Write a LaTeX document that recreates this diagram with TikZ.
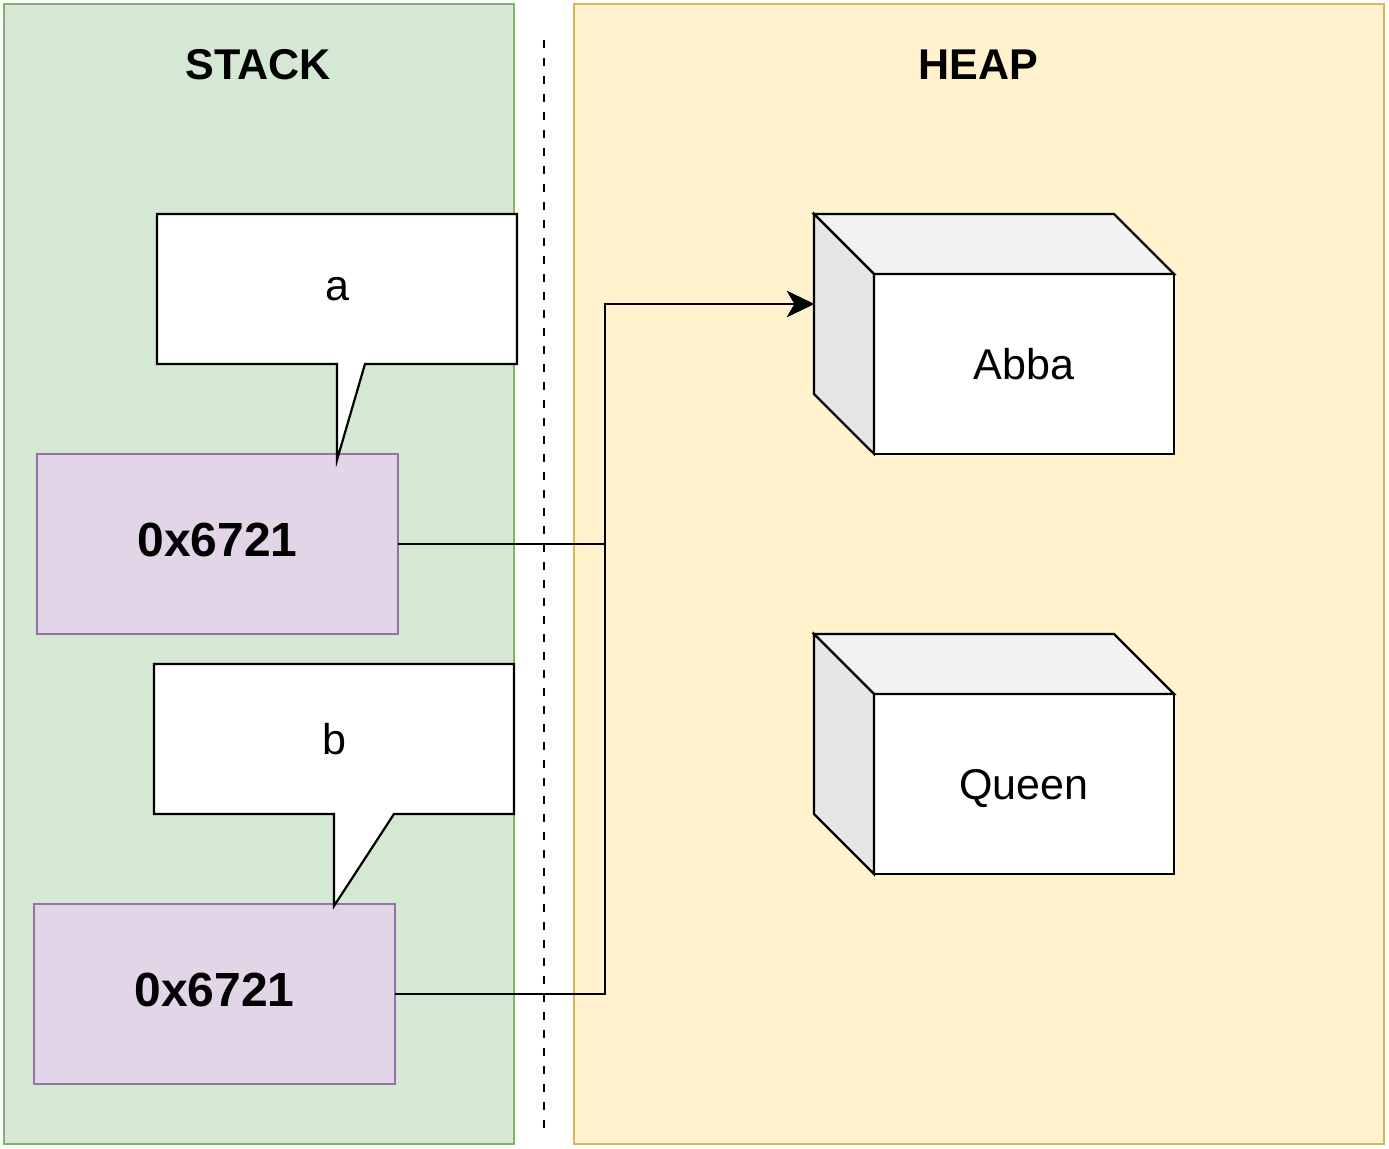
\documentclass[tikz,border=0pt]{standalone}
\usepackage{fontspec}
\setmainfont{Liberation Sans}
\usetikzlibrary{arrows.meta}
\definecolor{stackfill}{HTML}{D5E8D4}
\definecolor{stackline}{HTML}{82B366}
\definecolor{heapfill}{HTML}{FFF2CC}
\definecolor{heapline}{HTML}{D6B656}
\definecolor{ptrfill}{HTML}{E1D5E7}
\definecolor{ptrline}{HTML}{9673A6}
\definecolor{cubetop}{HTML}{F2F2F2}
\definecolor{cubeside}{HTML}{E6E6E6}
\newcommand{\bigtxt}{\fontsize{24.5pt}{29pt}\selectfont}
\newcommand{\addrtxt}{\fontsize{27.3pt}{32pt}\selectfont\bfseries}
\tikzset{
  panel/.style={inner sep=0, outer sep=0},
  ptrbox/.style={draw=ptrline, fill=ptrfill, minimum width=7.22cm, minimum height=3.6cm, inner sep=0, outer sep=0, text height=19.5pt, text depth=5.5pt, font=\addrtxt},
  varname/.style={minimum width=7.2cm, minimum height=3cm, inner sep=0, outer sep=0, font=\bigtxt},
  cubeface/.style={draw, fill=white, minimum width=6cm, minimum height=3.6cm, inner sep=0, outer sep=0, text height=17.6pt, text depth=0pt, font=\bigtxt},
  link/.style={-{Stealth[length=0.54cm, width=0.52cm, inset=0.15cm]}}
}
\begin{document}
\begin{tikzpicture}[x=0.02cm, y=-0.02cm, line width=1.25pt]
\useasboundingbox (0,0) rectangle (1389,1149);
\node[panel, draw=stackline, fill=stackfill, minimum width=10.2cm, minimum height=22.8cm] (stack) at (259,574) {};
\node[panel, draw=heapline, fill=heapfill, minimum width=16.2cm, minimum height=22.8cm] (heap) at (979,574) {};
\node[font=\bigtxt\bfseries] (stacklbl) at (258,65) {STACK};
\node[font=\bigtxt\bfseries] (heaplbl) at (978,65) {HEAP};
\coordinate (divtop) at (544,40);
\coordinate (divbot) at (544,1130);
\draw[dash pattern=on 0.16cm off 0.2cm] (divtop) -- (divbot);

\node[ptrbox] (boxa) at (217.5,544) {0x6721};
\node[ptrbox] (boxb) at (214.5,994) {0x6721};

\node[varname] (vara) at (337,289) {a};
\coordinate (tipa) at (337,460);
\draw[fill=white] (vara.south west) -- (vara.north west) -- (vara.north east) -- (vara.south east) -- ([xshift=0.56cm]vara.south) -- (tipa) -- (vara.south) -- cycle;
\node[varname] at (vara) {a};

\node[varname] (varb) at (334,739) {b};
\coordinate (tipb) at (334,906);
\draw[fill=white] (varb.south west) -- (varb.north west) -- (varb.north east) -- (varb.south east) -- ([xshift=1.2cm]varb.south) -- (tipb) -- (varb.south) -- cycle;
\node[varname] at (varb) {b};

\node[cubeface] (abba) at (1024,364) {Abba};
\draw[fill=cubetop] (abba.north west) -- ++(-60,-60) -- ++(300,0) -- (abba.north east) -- cycle;
\draw[fill=cubeside] (abba.north west) -- ++(-60,-60) -- ++(0,180) -- (abba.south west) -- cycle;

\node[cubeface] (queen) at (1024,784) {Queen};
\draw[fill=cubetop] (queen.north west) -- ++(-60,-60) -- ++(300,0) -- (queen.north east) -- cycle;
\draw[fill=cubeside] (queen.north west) -- ++(-60,-60) -- ++(0,180) -- (queen.south west) -- cycle;

\coordinate (abbain) at ([shift={(-60,-60)}]abba.west);
\coordinate (jog) at (605,304);
\draw[link] (boxa.east) -| (jog) -- (abbain);
\draw[link] (boxb.east) -| (jog) -- (abbain);
\end{tikzpicture}
\end{document}
